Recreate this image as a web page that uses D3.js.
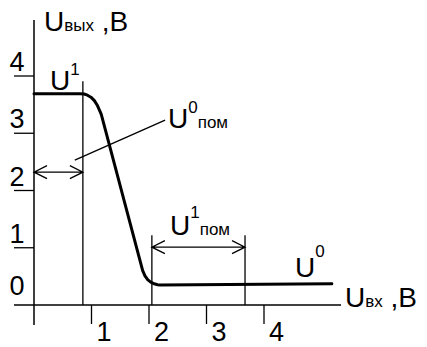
<!DOCTYPE html>
<html>
<head>
<meta charset="utf-8">
<script src="https://cdn.jsdelivr.net/npm/d3@7"></script>
<style>
  body { margin: 0; background: #fff; }
  text { font-family: "Liberation Sans", Arial, sans-serif; fill: #000; }
</style>
</head>
<body>
<div class="holder"></div>
<script>
var w = 427,
    h = 347;

// transfer characteristic Uвых(Uвх), volts
var curveX = [0, 0.80, 0.87, 0.93, 0.99, 1.05, 1.10, 1.14, 1.17, 1.89, 1.93, 1.98, 2.03, 2.09, 2.15, 2.19, 5.18];
var curveY = [3.69, 3.69, 3.685, 3.665, 3.63, 3.57, 3.49, 3.40, 3.33, 0.60, 0.51, 0.44, 0.40, 0.37, 0.355, 0.35, 0.37];

var xTicks = [1, 2, 3, 4];
var yTicks = [0, 1, 2, 3, 4];

// threshold levels
var uLow = 0.85, uHigh = 2.05, uHigh2 = 3.67;
var arrowY0 = 2.32, arrowY1 = 1.01;

var svg = d3.select('.holder').append('svg')
    .attr("width", w)
    .attr("height", h);

var x = d3.scaleLinear().domain([0, 4]).range([34, 264]);
var y = d3.scaleLinear().domain([0, 4]).range([305, 76]);

// axes
svg.append("line")
    .attr("x1", x(0)).attr("y1", 20)
    .attr("x2", x(0)).attr("y2", 325)
    .attr("stroke", "#000").attr("stroke-width", 1.5);
svg.append("line")
    .attr("x1", 14).attr("y1", y(0))
    .attr("x2", 341).attr("y2", y(0))
    .attr("stroke", "#000").attr("stroke-width", 1.5);

// y ticks
svg.selectAll(".ytick")
    .data(yTicks.filter(d => d > 0))
    .enter().append("line")
    .attr("x1", 14).attr("x2", x(0))
    .attr("y1", d => y(d)).attr("y2", d => y(d))
    .attr("stroke", "#000").attr("stroke-width", 1.3);
svg.selectAll(".ylab")
    .data(yTicks)
    .enter().append("text")
    .attr("x", 17)
    .attr("y", d => y(d) - (d == 0 ? 10 : 5))
    .attr("text-anchor", "middle")
    .style("font-size", "27px")
    .text(d => d);

// x ticks
svg.selectAll(".xtick")
    .data(xTicks)
    .enter().append("line")
    .attr("x1", d => x(d)).attr("x2", d => x(d))
    .attr("y1", y(0)).attr("y2", 324)
    .attr("stroke", "#000").attr("stroke-width", 1.3);
svg.selectAll(".xlab")
    .data(xTicks)
    .enter().append("text")
    .attr("x", d => x(d) + 5)
    .attr("y", 341)
    .style("font-size", "27px")
    .text(d => d);

// reference verticals
function vline(v, top) {
    svg.append("line")
        .attr("x1", x(v)).attr("x2", x(v))
        .attr("y1", y(top)).attr("y2", y(0))
        .attr("stroke", "#000").attr("stroke-width", 1.3);
}
vline(uLow, 3.91);
vline(uHigh, 1.22);
vline(uHigh2, 1.22);

// double arrows
function darrow(a, b, v) {
    var x1 = x(a), x2 = x(b), yy = y(v);
    var p = "M" + x1 + "," + yy + "H" + x2 +
        "M" + (x1 + 13) + "," + (yy - 6.5) + "L" + x1 + "," + yy + "L" + (x1 + 13) + "," + (yy + 6.5) +
        "M" + (x2 - 13) + "," + (yy - 6.5) + "L" + x2 + "," + yy + "L" + (x2 - 13) + "," + (yy + 6.5);
    svg.append("path").attr("d", p)
        .attr("fill", "none").attr("stroke", "#000").attr("stroke-width", 1.3);
}
darrow(0, uLow, arrowY0);
darrow(uHigh, uHigh2, arrowY1);

// leader to U0пом
svg.append("line")
    .attr("x1", x(0.71)).attr("y1", y(2.53))
    .attr("x2", x(2.28)).attr("y2", y(3.23))
    .attr("stroke", "#000").attr("stroke-width", 1.3);

// curve
var pts = curveX.map((d, i) => [d, curveY[i]]);
var line = d3.line()
    .x(d => x(d[0]))
    .y(d => y(d[1]));
svg.append("path")
    .attr("d", line(pts))
    .attr("fill", "none")
    .attr("stroke", "#000")
    .attr("stroke-width", 3)
    .attr("stroke-linecap", "round")
    .attr("stroke-linejoin", "round");

// labels
function label(px, py, parts) {
    var t = svg.append("text").attr("x", px).attr("y", py);
    parts.forEach(function(p) {
        var s = t.append("tspan").style("font-size", p[1] + "px").text(p[0]);
        if (p[2] != null) s.attr("dy", p[2]);
    });
}
label(44, 31, [["U", 28], ["вых", 17], [" ,B", 28]]);
label(50, 90, [["U", 28], ["1", 17, -15]]);
label(168, 128, [["U", 28], ["0", 17, -15], ["пом", 17, 15]]);
label(170, 235, [["U", 28], ["1", 17, -17], ["пом", 17, 17]]);
label(295, 277, [["U", 28], ["0", 17, -20]]);
label(345, 307, [["U", 28], ["вх", 17], [" ,B", 28]]);
</script>
</body>
</html>
